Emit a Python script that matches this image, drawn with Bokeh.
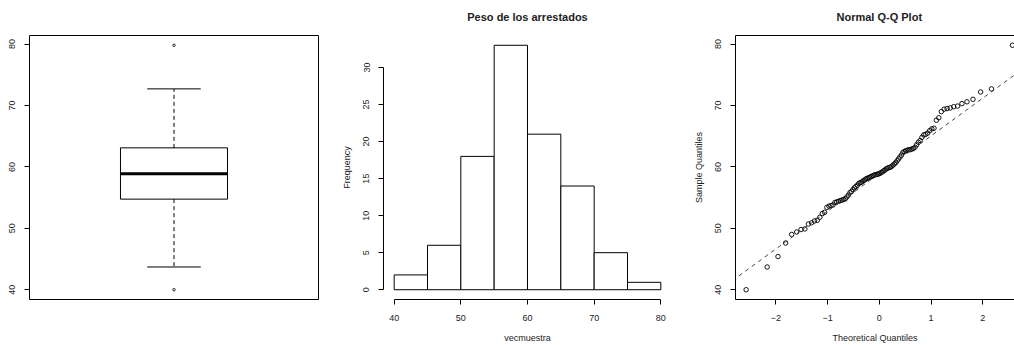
from statistics import NormalDist
import numpy as np
from bokeh.plotting import figure
from bokeh.layouts import row
from bokeh.models import LinearAxis, FixedTicker, Range1d, Slope
from bokeh.embed import file_html
from bokeh.resources import INLINE

# ---------------- data ----------------
sample = [
    40.0, 43.7,
    45.4, 47.6, 49.0, 49.4, 49.8, 49.9,
    50.7, 50.9, 51.2, 51.3, 51.8, 52.4, 52.6, 53.4, 53.6, 53.7, 53.8, 54.2,
    54.3, 54.4, 54.5, 54.6, 54.7, 54.8,
    55.1, 55.4, 55.8, 56.0, 56.3, 56.6, 56.8, 57.0, 57.3, 57.4, 57.5, 57.7,
    57.8, 58.0, 58.1, 58.2, 58.3, 58.4, 58.5, 58.6, 58.7, 58.75, 58.8, 58.85,
    58.95, 59.1, 59.2, 59.4, 59.5, 59.7, 59.8, 59.9, 59.95,
    60.1, 60.3, 60.5, 60.7, 61.0, 61.3, 61.6, 61.9, 62.3, 62.5, 62.6, 62.7,
    62.8, 62.8, 62.9, 63.0, 63.2, 63.6, 64.0, 64.3, 64.8,
    65.2, 65.3, 65.5, 65.9, 66.2, 66.3, 67.6, 68.0, 69.0, 69.4, 69.5, 69.6,
    69.8, 69.9,
    70.3, 70.6, 71.0, 72.2, 72.7,
    79.8,
]
hist_edges = [40, 45, 50, 55, 60, 65, 70, 75, 80]
hist_counts = [2, 6, 18, 33, 21, 14, 5, 1]
box_y_ticks = [40, 50, 60, 70, 80]
hist_x_ticks = [40, 50, 60, 70, 80]
hist_y_ticks = [0, 5, 10, 15, 20, 25, 30]
qq_x_ticks = [-2, -1, 0, 1, 2]
qq_y_ticks = [40, 50, 60, 70, 80]
hist_title = "Peso de los arrestados"
hist_xlabel = "vecmuestra"
hist_ylabel = "Frequency"
qq_title = "Normal Q-Q Plot"
qq_xlabel = "Theoretical Quantiles"
qq_ylabel = "Sample Quantiles"

FONT = "Liberation Sans"
TXT = "#222222"

x = np.sort(np.array(sample, dtype=float))
n = len(x)


def ext(lo, hi):
    d = (hi - lo) * 0.04
    return lo - d, hi + d


def style_axis(ax, ticks, bounds=None, vertical=False):
    ax.ticker = FixedTicker(ticks=ticks)
    ax.minor_tick_line_color = None
    ax.major_tick_in = 0
    ax.major_tick_out = 5
    ax.major_tick_line_color = "black"
    ax.axis_line_color = "black"
    ax.major_label_text_font = FONT
    ax.major_label_text_font_size = "9px"
    ax.major_label_text_color = TXT
    ax.axis_label_text_font = FONT
    ax.axis_label_text_font_size = "9px"
    ax.axis_label_text_font_style = "normal"
    ax.axis_label_text_color = TXT
    if bounds is not None:
        ax.bounds = bounds
    if vertical:
        ax.major_label_orientation = "parallel"
        ax.major_label_standoff = 9
        ax.axis_label_standoff = 9
    else:
        ax.major_label_standoff = 10
        ax.axis_label_standoff = 9


def base(width, left, right, xr, yr, title=None, x_axis=True):
    kw = dict(width=width, height=345, x_range=Range1d(*xr), y_range=Range1d(*yr),
              output_backend="svg", toolbar_location=None,
              min_border_left=left, min_border_right=right,
              min_border_top=33, min_border_bottom=45)
    if not x_axis:
        kw["x_axis_location"] = None
    if title:
        kw["title"] = title
    p = figure(**kw)
    p.xgrid.visible = False
    p.ygrid.visible = False
    p.background_fill_color = "white"
    p.border_fill_color = "white"
    if title:
        p.title.align = "center"
        p.title.vertical_align = "top"
        p.title.text_font = FONT
        p.title.text_font_size = "11px"
        p.title.text_font_style = "bold"
        p.title.text_color = TXT
        p.title.standoff = 21
    return p


# ---------------- boxplot ----------------
lower = x[: n // 2]
upper = x[n - n // 2:]
q1 = float(np.median(lower))
q3 = float(np.median(upper))
med = float(np.median(x))
iqr = q3 - q1
inside = x[(x >= q1 - 1.5 * iqr) & (x <= q3 + 1.5 * iqr)]
wlo, whi = float(inside.min()), float(inside.max())
outl = x[(x < wlo) | (x > whi)]

yr_box = ext(float(x.min()), float(x.max()))
p1 = base(338, 29, 20, (0.46, 1.54), yr_box, x_axis=False)
p1.outline_line_color = "black"
p1.outline_line_width = 1
style_axis(p1.yaxis[0], box_y_ticks, bounds=(40, 80), vertical=True)
p1.quad(left=[0.8], right=[1.2], bottom=[q1], top=[q3], fill_color="white",
        line_color="black", line_width=1)
p1.segment(x0=[1, 1], y0=[q3, q1], x1=[1, 1], y1=[whi, wlo], line_color="black",
           line_dash="4 3", line_width=1)
p1.segment(x0=[0.9, 0.9], y0=[whi, wlo], x1=[1.1, 1.1], y1=[whi, wlo],
           line_color="black", line_width=1)
p1.segment(x0=[0.8], y0=[med], x1=[1.2], y1=[med], line_color="black", line_width=3)
p1.scatter(x=[1] * len(outl), y=list(outl), marker="circle", size=2.5,
           fill_color=None, line_color="black", line_width=0.8)

# ---------------- histogram ----------------
xr_hist = ext(hist_edges[0], hist_edges[-1])
yr_hist = ext(0, max(hist_counts))
p2 = base(338, 45, 5, xr_hist, yr_hist, title=hist_title)
p2.outline_line_color = None
style_axis(p2.xaxis[0], hist_x_ticks, bounds=(hist_edges[0], hist_edges[-1]))
style_axis(p2.yaxis[0], hist_y_ticks, bounds=(0, 30), vertical=True)
p2.xaxis[0].axis_label = hist_xlabel
p2.yaxis[0].axis_label = hist_ylabel
p2.quad(left=hist_edges[:-1], right=hist_edges[1:], bottom=0, top=hist_counts,
        fill_color="white", line_color="black", line_width=1)

# ---------------- QQ plot ----------------
nd = NormalDist()
theo = [nd.inv_cdf((i + 0.5) / n) for i in range(n)]
xr_qq_full = ext(min(theo), max(theo))
p3 = base(338, 59, 0, (xr_qq_full[0], 2.615), yr_box, title=qq_title)
p3.title.align = "left"
p3.title.offset = 101
p3.outline_line_color = None
style_axis(p3.xaxis[0], qq_x_ticks)
style_axis(p3.yaxis[0], qq_y_ticks, vertical=True)
p3.xaxis[0].axis_label = qq_xlabel
p3.yaxis[0].axis_label = qq_ylabel
top_ax = LinearAxis(ticker=FixedTicker(ticks=[]), major_label_text_font_size="0px",
                    major_tick_out=0, major_tick_in=0, major_label_standoff=0,
                    minor_tick_line_color=None, axis_line_color="black")
p3.add_layout(top_ax, "above")
yq = np.quantile(x, [0.25, 0.75])
xq = [nd.inv_cdf(0.25), nd.inv_cdf(0.75)]
slope = (yq[1] - yq[0]) / (xq[1] - xq[0])
icpt = yq[0] - slope * xq[0]
p3.add_layout(Slope(gradient=slope, y_intercept=icpt, line_color="#444444",
                    line_dash="4 4", line_width=1))
p3.scatter(x=theo, y=list(x), marker="circle", size=4.5, fill_color=None,
           line_color="black", line_width=0.9)

layout = row(p1, p2, p3)
open("out.html", "w").write(file_html(layout, INLINE))
